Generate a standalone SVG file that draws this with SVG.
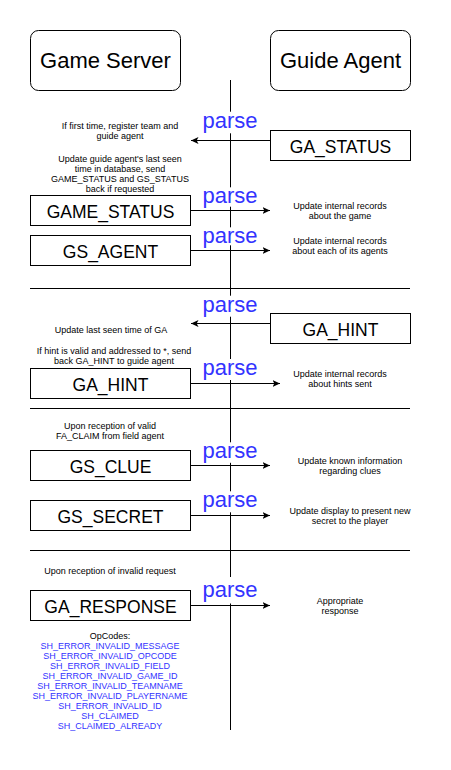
<svg xmlns="http://www.w3.org/2000/svg" width="451" height="770" viewBox="0 0 451 770">
<style>
  text { font-family: "Liberation Sans", Arial, Helvetica, sans-serif; text-anchor: middle; }
  .box { fill: #ffffff; stroke: #000000; stroke-width: 1; }
  .hdr { font-size: 22px; fill: #000; }
  .lbl { font-size: 17.5px; fill: #000; }
  .note { font-size: 9px; fill: #000; }
  .code { font-size: 9px; fill: #3333ff; }
  .parse { font-size: 22px; fill: #3333ff; }
  .pbg { fill: #ffffff; stroke: none; }
  .line { stroke: #000; stroke-width: 1; fill: none; }
  .arrow { stroke: #000; stroke-width: 1; fill: none; marker-end: url(#arr); }
</style>
<defs>
  <marker id="arr" markerUnits="userSpaceOnUse" markerWidth="9" markerHeight="9" refX="7.5" refY="3.5" orient="auto">
    <path d="M0,0 L7.5,3.5 L0,7 L1.8,3.5 Z" fill="#000"/>
  </marker>
</defs>
<rect width="451" height="770" fill="#ffffff"/>

<g id="connectors">
  <line class="line" x1="230.5" y1="80" x2="230.5" y2="730"/>
  <line class="line" x1="30" y1="288.5" x2="410" y2="288.5"/>
  <line class="line" x1="30" y1="408.5" x2="410" y2="408.5"/>
  <line class="line" x1="30" y1="550.5" x2="410" y2="550.5"/>
</g>

<g id="parse-labels">
  <rect class="pbg" x="202" y="111.7" width="57" height="21.6"/>
  <text class="parse" x="230" y="127.7">parse</text>
  <rect class="pbg" x="202" y="187.3" width="57" height="19.4"/>
  <text class="parse" x="230" y="203.3">parse</text>
  <rect class="pbg" x="202" y="227.3" width="57" height="18"/>
  <text class="parse" x="230" y="243.3">parse</text>
  <rect class="pbg" x="202" y="295.7" width="57" height="21"/>
  <text class="parse" x="230" y="311.7">parse</text>
  <rect class="pbg" x="202" y="359" width="57" height="21"/>
  <text class="parse" x="230" y="375">parse</text>
  <rect class="pbg" x="202" y="442.3" width="57" height="20.5"/>
  <text class="parse" x="230" y="458.3">parse</text>
  <rect class="pbg" x="202" y="491.3" width="57" height="21"/>
  <text class="parse" x="230" y="507.3">parse</text>
  <rect class="pbg" x="202" y="577" width="57" height="26.5"/>
  <text class="parse" x="230" y="597.3">parse</text>
</g>

<g id="arrows">
  <line class="arrow" x1="270" y1="140.5" x2="191" y2="140.5"/>
  <line class="arrow" x1="190.5" y1="210.5" x2="270" y2="210.5"/>
  <line class="arrow" x1="190.5" y1="250.5" x2="270" y2="250.5"/>
  <line class="arrow" x1="270" y1="323.5" x2="191" y2="323.5"/>
  <line class="arrow" x1="190.5" y1="383.5" x2="280" y2="383.5"/>
  <line class="arrow" x1="190.5" y1="465.5" x2="270" y2="465.5"/>
  <line class="arrow" x1="190.5" y1="515.5" x2="270" y2="515.5"/>
  <line class="arrow" x1="190.5" y1="605.5" x2="270" y2="605.5"/>
</g>

<g id="game-server">
  <rect class="box" x="30.5" y="30.5" width="150" height="60" rx="8" ry="8"/>
  <text class="hdr" x="105.5" y="68">Game Server</text>
</g>
<g id="guide-agent">
  <rect class="box" x="270.5" y="30.5" width="140" height="60" rx="8" ry="8"/>
  <text class="hdr" x="340.5" y="68">Guide Agent</text>
</g>

<g id="ga-status">
  <rect class="box" x="270.5" y="130.5" width="140" height="30"/>
  <text class="lbl" x="340.5" y="152.5">GA_STATUS</text>
</g>
<g id="game-status">
  <rect class="box" x="30.5" y="195.5" width="160" height="30"/>
  <text class="lbl" x="110.5" y="217.5">GAME_STATUS</text>
</g>
<g id="gs-agent">
  <rect class="box" x="30.5" y="235.5" width="160" height="30"/>
  <text class="lbl" x="110.5" y="257.5">GS_AGENT</text>
</g>
<g id="ga-hint-ga">
  <rect class="box" x="270.5" y="313.5" width="140" height="30"/>
  <text class="lbl" x="340.5" y="335.5">GA_HINT</text>
</g>
<g id="ga-hint-gs">
  <rect class="box" x="30.5" y="368.5" width="160" height="30"/>
  <text class="lbl" x="110.5" y="390.5">GA_HINT</text>
</g>
<g id="gs-clue">
  <rect class="box" x="30.5" y="450.5" width="160" height="30"/>
  <text class="lbl" x="110.5" y="472.5">GS_CLUE</text>
</g>
<g id="gs-secret">
  <rect class="box" x="30.5" y="500.5" width="160" height="30"/>
  <text class="lbl" x="110.5" y="522.5">GS_SECRET</text>
</g>
<g id="ga-response">
  <rect class="box" x="30.5" y="590.5" width="160" height="30"/>
  <text class="lbl" x="110.5" y="612.5">GA_RESPONSE</text>
</g>

<g id="note-register">
  <text class="note" x="120" y="129">If first time, register team and</text>
  <text class="note" x="120" y="139">guide agent</text>
</g>
<g id="note-update-seen">
  <text class="note" x="120" y="162.3">Update guide agent's last seen</text>
  <text class="note" x="120" y="172.3">time in database, send</text>
  <text class="note" x="120" y="182.3">GAME_STATUS and GS_STATUS</text>
  <text class="note" x="120" y="192.3">back if requested</text>
</g>
<g id="note-game">
  <text class="note" x="340" y="209.3">Update internal records</text>
  <text class="note" x="340" y="219.3">about the game</text>
</g>
<g id="note-agents">
  <text class="note" x="340" y="244.3">Update internal records</text>
  <text class="note" x="340" y="254.3">about each of its agents</text>
</g>
<g id="note-last-seen">
  <text class="note" x="111" y="332.6">Update last seen time of GA</text>
</g>
<g id="note-hint-valid">
  <text class="note" x="114" y="354.3">If hint is valid and addressed to *, send</text>
  <text class="note" x="114" y="364.3">back GA_HINT to guide agent</text>
</g>
<g id="note-hints">
  <text class="note" x="340" y="377.3">Update internal records</text>
  <text class="note" x="340" y="387.3">about hints sent</text>
</g>
<g id="note-claim">
  <text class="note" x="110" y="429">Upon reception of valid</text>
  <text class="note" x="110" y="439">FA_CLAIM from field agent</text>
</g>
<g id="note-clues">
  <text class="note" x="350" y="464.3">Update known information</text>
  <text class="note" x="350" y="474.3">regarding clues</text>
</g>
<g id="note-secret">
  <text class="note" x="350" y="514.3">Update display to present new</text>
  <text class="note" x="350" y="524.3">secret to the player</text>
</g>
<g id="note-invalid">
  <text class="note" x="110" y="574.3">Upon reception of invalid request</text>
</g>
<g id="note-response">
  <text class="note" x="340" y="604.3">Appropriate</text>
  <text class="note" x="340" y="614.3">response</text>
</g>
<g id="opcodes">
  <text class="note" x="110" y="639">OpCodes:</text>
  <text class="code" x="110" y="649">SH_ERROR_INVALID_MESSAGE</text>
  <text class="code" x="110" y="659">SH_ERROR_INVALID_OPCODE</text>
  <text class="code" x="110" y="669">SH_ERROR_INVALID_FIELD</text>
  <text class="code" x="110" y="679">SH_ERROR_INVALID_GAME_ID</text>
  <text class="code" x="110" y="689">SH_ERROR_INVALID_TEAMNAME</text>
  <text class="code" x="110" y="699">SH_ERROR_INVALID_PLAYERNAME</text>
  <text class="code" x="110" y="709">SH_ERROR_INVALID_ID</text>
  <text class="code" x="110" y="719">SH_CLAIMED</text>
  <text class="code" x="110" y="729">SH_CLAIMED_ALREADY</text>
</g>
</svg>
